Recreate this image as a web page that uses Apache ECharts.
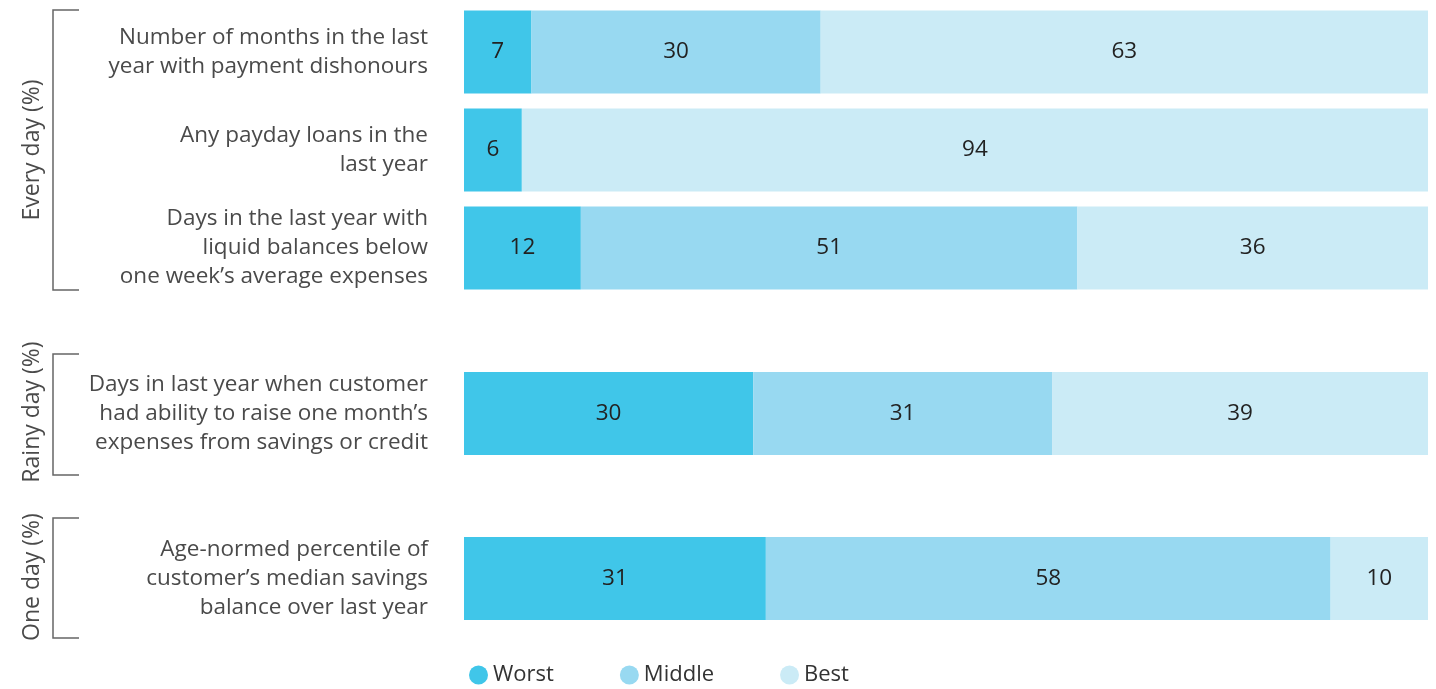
<!DOCTYPE html>
<html><head><meta charset="utf-8">
<script src="https://cdn.jsdelivr.net/npm/echarts@6/dist/echarts.min.js"></script>
<style>html,body{margin:0;padding:0;background:#fff}#c{width:1436px;height:689px}</style>
</head><body><div id="c"></div>
<script>
const categories = [
  'Number of months in the last\nyear with payment dishonours',
  'Any payday loans in the\nlast year',
  'Days in the last year with\nliquid balances below\none week\u2019s average expenses',
  'Days in last year when customer\nhad ability to raise one month\u2019s\nexpenses from savings or credit',
  'Age-normed percentile of\ncustomer\u2019s median savings\nbalance over last year'
];
const groupOfRow = [0, 0, 0, 1, 2];
const groupNames = ['Every day (%)', 'Rainy day (%)', 'One day (%)'];
const seriesNames = ['Worst', 'Middle', 'Best'];
const worst  = [7, 6, 12, 30, 31];
const middle = [30, 0, 51, 31, 58];
const best   = [63, 94, 36, 39, 10];

const colors = ['#40c6e9', '#98d9f1', '#cbebf6'];
const FONT = 'Open Sans';
const chart = echarts.init(document.getElementById('c'));
const values = [worst, middle, best];
const totals = worst.map((w, i) => w + middle[i] + best[i]);

const grids = [
  {left: 464, right: 8, top: 3, height: 294},
  {left: 464, right: 8, top: 372, height: 83},
  {left: 464, right: 8, top: 537, height: 83}
];
const xAxes = grids.map((g, gi) => ({gridIndex: gi, type: 'value', min: 0, max: 100, show: false}));
const yAxes = grids.map((g, gi) => {
  const cats = categories.filter((c, i) => groupOfRow[i] === gi);
  return {
    gridIndex: gi, type: 'category', data: cats, inverse: true,
    axisLine: {show: false}, axisTick: {show: false},
    axisLabel: {margin: 36, fontFamily: FONT, fontSize: 22.5, color: '#4a4a4a', lineHeight: 29, align: 'right'}
  };
});
const series = [];
grids.forEach((g, gi) => {
  const rows = categories.map((c, i) => i).filter(i => groupOfRow[i] === gi);
  seriesNames.forEach((name, si) => {
    series.push({
      name, type: 'bar', stack: 'g' + gi, xAxisIndex: gi, yAxisIndex: gi,
      barWidth: 83,
      itemStyle: {color: colors[si]},
      label: {
        show: true, position: 'inside', fontFamily: FONT, fontSize: 22.5, color: '#222',
        formatter: p => p.data.raw ? String(p.data.raw) : ''
      },
      data: rows.map(i => ({value: values[si][i] / totals[i] * 100, raw: values[si][i]}))
    });
  });
});

const brackets = [[10, 290], [354, 475], [518, 638]];
const titleCenters = [150, 412, 577];
const graphic = [];
brackets.forEach(([y1, y2], gi) => {
  graphic.push({
    type: 'polyline',
    shape: {points: [[79, y1], [53, y1], [53, y2], [79, y2]]},
    style: {stroke: '#666', lineWidth: 1.5, fill: null}
  });
  graphic.push({
    type: 'text', x: 32, y: titleCenters[gi], rotation: Math.PI / 2,
    style: {text: groupNames[gi], fontFamily: FONT, fontSize: 23, fill: '#4a4a4a', align: 'center', verticalAlign: 'middle'}
  });
});

chart.setOption({
  animation: false,
  grid: grids,
  xAxis: xAxes,
  yAxis: yAxes,
  legend: {
    data: seriesNames, left: 464, top: 659, icon: 'circle', itemWidth: 19, itemHeight: 19, itemGap: 66,
    textStyle: {fontFamily: FONT, fontSize: 22, color: '#333'}
  },
  graphic,
  series
});
</script></body></html>
